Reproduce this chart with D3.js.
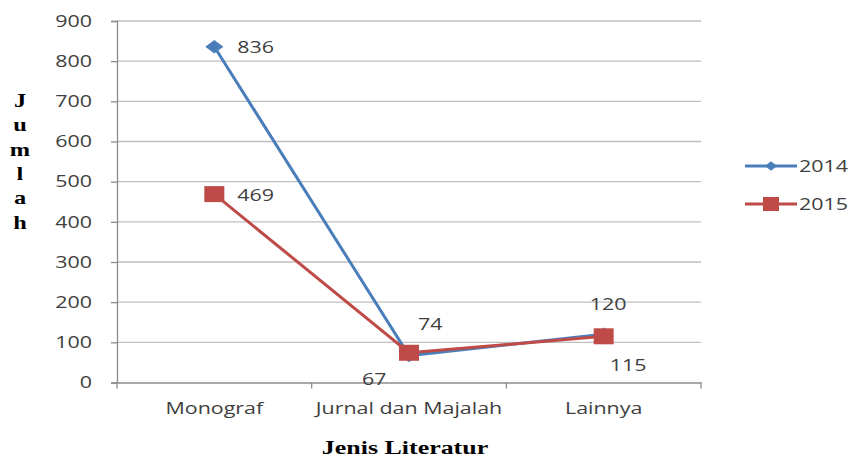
<!DOCTYPE html>
<html><head><meta charset="utf-8">
<script src="https://cdn.jsdelivr.net/npm/d3@7"></script>
<style>body{margin:0;background:#fff;} svg{display:block;}</style>
</head><body>
<svg id="c" width="853" height="459"></svg>
<script>
const categories = ["Monograf", "Jurnal dan Majalah", "Lainnya"];
const series2014 = [836, 67, 120];
const series2015 = [469, 74, 115];
const seriesNames = ["2014", "2015"];
const yTicks = [0, 100, 200, 300, 400, 500, 600, 700, 800, 900];

const svg = d3.select("#c");
const L = 117, R = 701, T = 21, B = 382.5;
const x = d3.scaleBand().domain(categories).range([L, R]);
const y = d3.scaleLinear().domain([0, 900]).range([B, T]);
const font = "'Open Sans', sans-serif";
const serif = "'Liberation Serif', 'DejaVu Serif', serif";
const colors = ["#4a7ebb", "#be4b48"];
const SX = 1.3, FS = 16.5;

function stext(g, tx, ty, txt, opts) {
  opts = opts || {};
  return g.append("text")
    .attr("transform", `translate(${tx},${ty}) scale(${opts.sx || SX},1)`)
    .attr("text-anchor", opts.anchor || "start")
    .attr("dy", opts.dy || "0.35em")
    .attr("font-family", opts.font || font)
    .attr("font-size", opts.size || FS)
    .attr("font-weight", opts.weight || "normal")
    .attr("fill", opts.fill || "#404040")
    .text(txt);
}

// gridlines
svg.append("g").selectAll("line").data(yTicks.filter(d => d > 0)).join("line")
  .attr("x1", L).attr("x2", R).attr("y1", d => y(d)).attr("y2", d => y(d))
  .attr("stroke", "#bfbfbf").attr("stroke-width", 1.3);

// y axis
const ya = svg.append("g").attr("transform", `translate(${L},0)`)
  .call(d3.axisLeft(y).tickValues(yTicks).tickSize(6).tickFormat(""));
ya.select(".domain").attr("stroke", "#8c8c8c").attr("stroke-width", 1.3);
ya.selectAll(".tick line").attr("stroke", "#8c8c8c").attr("stroke-width", 1.3);
const ylabG = svg.append("g");
yTicks.forEach(t => stext(ylabG, 92, y(t), t, {anchor: "end"}));

// x axis
const xa = svg.append("g").attr("transform", `translate(0,${B})`)
  .call(d3.axisBottom(x).tickSize(0).tickFormat(""));
xa.select(".domain").attr("stroke", "#8c8c8c").attr("stroke-width", 1.3);
const bounds = [0, 1, 2, 3].map(i => L + i * x.step());
svg.append("g").selectAll("line").data(bounds).join("line")
  .attr("x1", d => d).attr("x2", d => d).attr("y1", B).attr("y2", B + 6)
  .attr("stroke", "#8c8c8c").attr("stroke-width", 1.3);
const cx = d => x(d) + x.bandwidth() / 2;
const xlabG = svg.append("g");
categories.forEach(c => stext(xlabG, cx(c), 408, c, {anchor: "middle"}));

const line = d3.line().x(d => cx(d.c)).y(d => y(d.v));
const data = [series2014, series2015].map(s => s.map((v, i) => ({c: categories[i], v})));

data.forEach((s, k) => {
  svg.append("path").datum(s).attr("d", line).attr("fill", "none")
    .attr("stroke", colors[k]).attr("stroke-width", 3);
});
// 2014 diamonds
svg.append("g").selectAll("path").data(data[0]).join("path")
  .attr("d", d3.symbol(d3.symbolDiamond2, 115))
  .attr("transform", d => `translate(${cx(d.c)},${y(d.v)}) scale(1.35,1)`)
  .attr("fill", colors[0]);
// 2015 squares
svg.append("g").selectAll("rect").data(data[1]).join("rect")
  .attr("x", d => cx(d.c) - 10).attr("y", d => y(d.v) - 8)
  .attr("width", 20).attr("height", 16).attr("fill", colors[1]);

// data labels
const labelOffsets = [
  [[23, 1], [-47, 24], [-14, -30]],
  [[23, 1], [9, -29], [6, 29]]
];
const dlG = svg.append("g");
data.forEach((s, k) => {
  s.forEach((d, i) => stext(dlG, cx(d.c) + labelOffsets[k][i][0], y(d.v) + labelOffsets[k][i][1], d.v));
});

// legend
seriesNames.forEach((n, k) => {
  const ly = 166 + k * 38;
  const g = svg.append("g");
  g.append("line").attr("x1", 745).attr("x2", 797).attr("y1", ly).attr("y2", ly)
    .attr("stroke", colors[k]).attr("stroke-width", 3);
  if (k === 0) {
    g.append("path").attr("d", d3.symbol(d3.symbolDiamond2, 55))
      .attr("transform", `translate(771,${ly}) scale(1.3,1)`).attr("fill", colors[0]);
  } else {
    g.append("rect").attr("x", 763).attr("y", ly - 7).attr("width", 16).attr("height", 14).attr("fill", colors[1]);
  }
  stext(g, 799, ly, n);
});

// axis titles
stext(svg, 405, 447, "Jenis Literatur", {anchor: "middle", font: serif, weight: "bold", size: 19.5, fill: "#000", sx: 1.33});
const ylab = "Jumlah".split("");
const yt = svg.append("g");
ylab.forEach((ch, i) => stext(yt, 20, 100 + i * 24.4, ch, {anchor: "middle", font: serif, weight: "bold", size: 19.5, fill: "#000", sx: 1.25}));
</script>
</body></html>
